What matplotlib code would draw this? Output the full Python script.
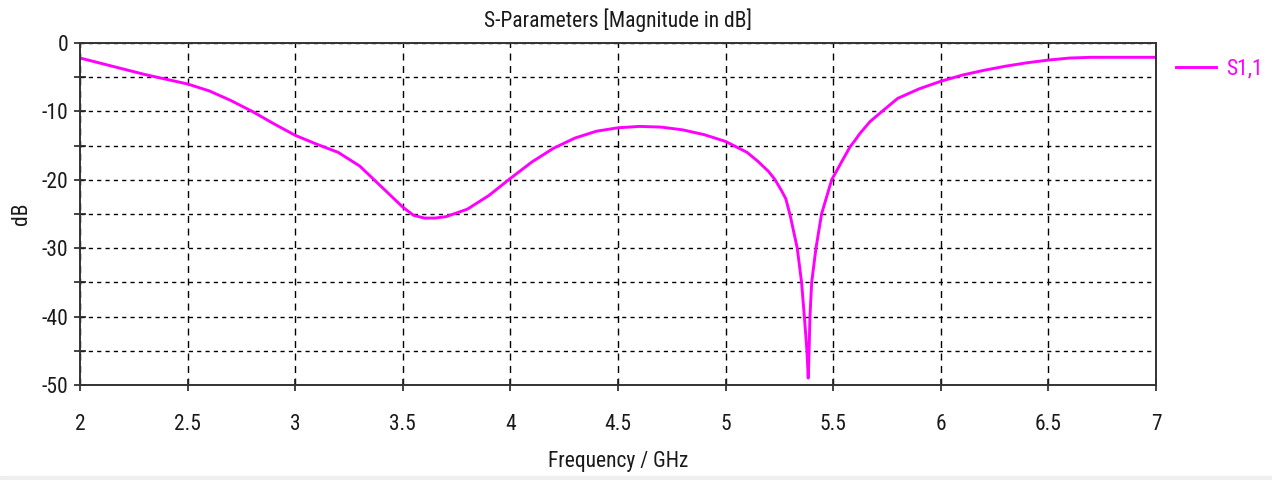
import numpy as np
import matplotlib.pyplot as plt
from matplotlib.ticker import MultipleLocator

# S1,1 magnitude sweep
freq = [2.00, 2.10, 2.20, 2.30, 2.40, 2.50, 2.60, 2.70, 2.80, 2.90,
        3.00, 3.10, 3.20, 3.30, 3.40, 3.50, 3.55, 3.60, 3.65, 3.70,
        3.80, 3.90, 4.00, 4.10, 4.20, 4.30, 4.40, 4.50, 4.60, 4.70,
        4.80, 4.90, 5.00, 5.10, 5.15, 5.20, 5.23, 5.26, 5.28, 5.30,
        5.333, 5.353, 5.366, 5.378, 5.384, 5.388, 5.392, 5.40, 5.42, 5.446,
        5.493, 5.546, 5.578, 5.60, 5.625, 5.671, 5.731, 5.80, 5.90, 6.00,
        6.10, 6.20, 6.30, 6.40, 6.50, 6.60, 6.70, 6.80, 6.90, 7.00]
s11 = [-2.2, -3.0, -3.8, -4.6, -5.3, -6.0, -7.0, -8.4, -10.0, -11.8,
       -13.5, -14.8, -16.0, -18.0, -21.0, -24.0, -25.2, -25.6, -25.6, -25.4,
       -24.3, -22.3, -19.8, -17.4, -15.4, -13.9, -12.9, -12.4, -12.2, -12.3,
       -12.7, -13.4, -14.4, -16.0, -17.3, -18.8, -20.0, -21.6, -22.8, -25.2,
       -30.0, -35.0, -40.0, -45.0, -49.0, -45.0, -40.0, -35.0, -30.0, -25.0,
       -20.0, -17.0, -15.2, -14.3, -13.2, -11.5, -9.9, -8.1, -6.7, -5.6,
       -4.7, -4.0, -3.4, -2.9, -2.5, -2.2, -2.1, -2.1, -2.1, -2.1]

xticks = [2, 2.5, 3, 3.5, 4, 4.5, 5, 5.5, 6, 6.5, 7]
xlabels = ['2', '2.5', '3', '3.5', '4', '4.5', '5', '5.5', '6', '6.5', '7']

plt.rcParams['font.family'] = ['Roboto Condensed', 'Noto Sans Condensed',
                               'DejaVu Sans Condensed', 'Liberation Sans Narrow',
                               'Roboto', 'DejaVu Sans']
plt.rcParams['font.stretch'] = 'condensed'
plt.rcParams['axes.unicode_minus'] = False

txt = '#1a1a1a'
fs = 15.5

fig = plt.figure(figsize=(12.72, 4.8), dpi=100)
ax = fig.add_axes([0.0629, 0.198, 0.8459, 0.7125])

ax.plot(freq, s11, color='#ff00ff', lw=2.1, label='S1,1')

ax.set_xlim(2, 7)
ax.set_ylim(-50, 0)
ax.set_xticks(xticks)
ax.set_xticklabels(xlabels)
ax.yaxis.set_major_locator(MultipleLocator(10))
ax.yaxis.set_minor_locator(MultipleLocator(5))

ax.grid(True, axis='x', which='major', color='black', ls=(0, (5, 4)), lw=1.0)
ax.grid(True, axis='y', which='both', color='black', ls=(0, (3, 3)), lw=1.0)

ax.tick_params(axis='both', which='both', direction='inout', length=9, width=1.2,
               colors='#222222', labelsize=fs, labelcolor=txt)
ax.tick_params(axis='x', pad=16.5)
ax.tick_params(axis='y', pad=4)
for sp in ax.spines.values():
    sp.set_color('#333333')
    sp.set_linewidth(1.4)

ax.set_title('S-Parameters [Magnitude in dB]', fontsize=fs, color=txt, pad=11.5)
ax.set_xlabel('Frequency / GHz', fontsize=fs, color=txt, va='center')
ax.xaxis.set_label_coords(0.5, -0.225)
ax.set_ylabel('dB', fontsize=fs, color=txt, va='center')
ax.yaxis.set_label_coords(-0.054, 0.5)

leg = ax.legend(loc='center left', bbox_to_anchor=(1.0186, 0.925), frameon=False,
                fontsize=fs, handlelength=1.86, handletextpad=0.47,
                borderpad=0, borderaxespad=0)
for t in leg.get_texts():
    t.set_color('#ff00ff')

# thin grey strip along the bottom edge
fig.patches.append(plt.Rectangle((0, 0), 1, 0.008, transform=fig.transFigure,
                                 color='#eeeeee', zorder=0))

fig.savefig('out.png', dpi=100)
